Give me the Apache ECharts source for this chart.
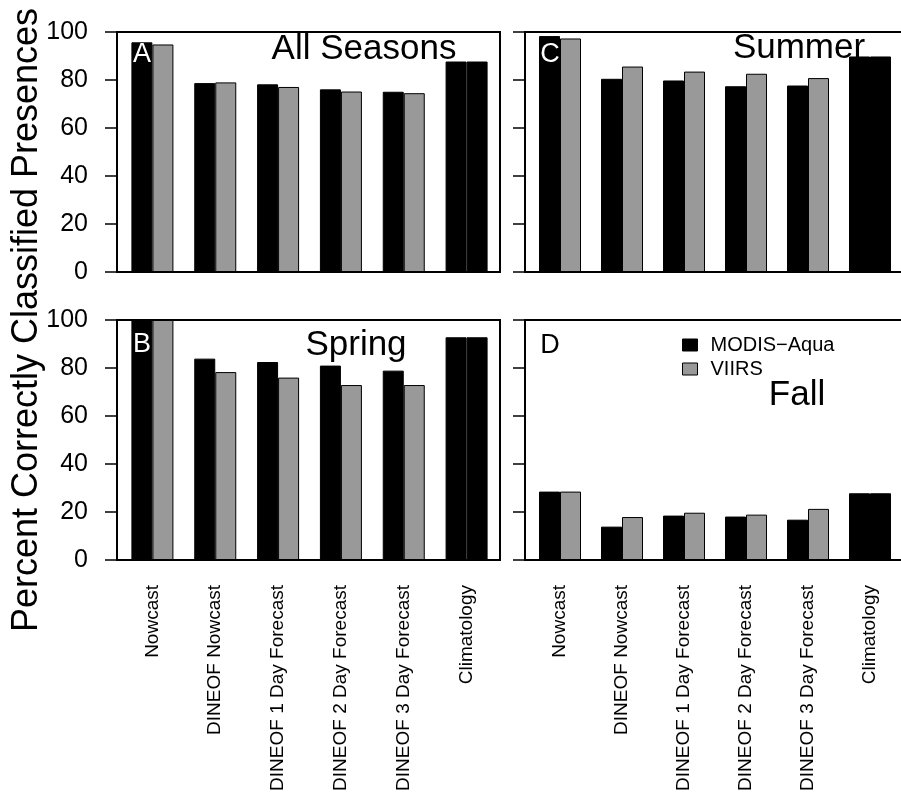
<!DOCTYPE html>
<html>
<head>
<meta charset="utf-8">
<script src="https://cdn.jsdelivr.net/npm/echarts@6/dist/echarts.min.js"></script>
<style>
  html, body { margin: 0; padding: 0; background: #fff; }
  #chart { width: 901px; height: 800px; }
</style>
</head>
<body>
<div id="chart"></div>
<script>
// Forecast methods on the category axis
const categories = ['Nowcast', 'DINEOF Nowcast', 'DINEOF 1 Day Forecast',
  'DINEOF 2 Day Forecast', 'DINEOF 3 Day Forecast', 'Climatology'];

// Percent correctly classified presences, per season and sensor
const modisAll    = [95.7, 78.7, 78.2, 76.1, 75.1, 87.7];
const viirsAll    = [94.8, 79.0, 77.1, 75.2, 74.5, 87.7];
const modisSpring = [100, 83.9, 82.5, 81.0, 78.9, 92.8];
const viirsSpring = [100, 78.3, 76.0, 72.9, 72.9, 92.8];
const modisSummer = [98.3, 80.5, 79.8, 77.4, 77.7, 89.8];
const viirsSummer = [97.3, 85.6, 83.5, 82.6, 80.8, 89.8];
const modisFall   = [28.5, 13.9, 18.5, 18.1, 16.8, 27.8];
const viirsFall   = [28.5, 17.9, 19.7, 18.9, 21.3, 27.8];

const yTicks = [0, 20, 40, 60, 80, 100];
const seriesNames = ['MODIS\u2212Aqua', 'VIIRS'];
const seasonTitles = ['All Seasons', 'Spring', 'Summer', 'Fall'];
const panelLetters = ['A', 'B', 'C', 'D'];

const FONT = '"Liberation Sans", Arial, Helvetica, sans-serif';
const BLACK = '#000000';
const GREY = '#999999';

// panel layout: frame box, bar grid sits 4px inside the frame's left edge
const FRAME_W = 383, PANEL_H = 240;
const panels = [
  { frameLeft: 117, top: 32,  modis: modisAll,    viirs: viirsAll,    yLabels: true,  xLabels: false,
    title: { x: 364, y: 49 },  letter: { x: 142, y: 55,  color: '#fff' } },
  { frameLeft: 117, top: 320, modis: modisSpring, viirs: viirsSpring, yLabels: true,  xLabels: true,
    title: { x: 356, y: 345 }, letter: { x: 142, y: 345, color: '#fff' } },
  { frameLeft: 525, top: 32,  modis: modisSummer, viirs: viirsSummer, yLabels: false, xLabels: false,
    title: { x: 799, y: 48 },  letter: { x: 550, y: 55,  color: '#fff' } },
  { frameLeft: 525, top: 320, modis: modisFall,   viirs: viirsFall,   yLabels: false, xLabels: true,
    title: { x: 797, y: 395 }, letter: { x: 550, y: 346, color: BLACK } }
];

const grids = [], xAxes = [], yAxes = [], series = [], graphics = [];

panels.forEach((p, i) => {
  grids.push({ left: p.frameLeft + 4, top: p.top, width: 377, height: PANEL_H, containLabel: false });
  xAxes.push({
    type: 'category', gridIndex: i, data: categories,
    axisLine: { show: false }, axisTick: { show: false },
    axisLabel: { show: p.xLabels, rotate: 90, margin: 25, fontSize: 19, color: BLACK, fontFamily: FONT, interval: 0 }
  });
  yAxes.push({
    type: 'value', gridIndex: i, min: yTicks[0], max: yTicks[yTicks.length - 1], interval: 20,
    offset: 4,
    axisLine: { show: true, lineStyle: { color: BLACK, width: 2 } },
    axisTick: { show: true, length: 12, lineStyle: { color: BLACK, width: 1.5 } },
    splitLine: { show: false },
    axisLabel: { show: p.yLabels, fontSize: 25, margin: 29, color: BLACK, fontFamily: FONT }
  });
  const barStyle = (c) => ({ color: c, borderColor: BLACK, borderWidth: 1 });
  series.push({
    name: seriesNames[0], type: 'bar', xAxisIndex: i, yAxisIndex: i,
    data: p.modis, barWidth: 21, barGap: '0%', itemStyle: barStyle(BLACK)
  });
  series.push({
    name: seriesNames[1], type: 'bar', xAxisIndex: i, yAxisIndex: i,
    // climatology has no sensor split, so its second bar is drawn black too
    data: p.viirs.map((v, k) => k === categories.length - 1 ? { value: v, itemStyle: { color: BLACK } } : v),
    barWidth: 21, barGap: '0%', itemStyle: barStyle(GREY)
  });
  // panel box
  graphics.push({
    type: 'rect', z: 100, silent: true,
    shape: { x: p.frameLeft, y: p.top, width: FRAME_W, height: PANEL_H },
    style: { fill: 'none', stroke: BLACK, lineWidth: 2 }
  });
  graphics.push({
    type: 'text', z: 101, x: p.title.x, y: p.title.y,
    style: { text: seasonTitles[i], font: '35px ' + FONT, fill: BLACK, textAlign: 'center', textVerticalAlign: 'middle' }
  });
  graphics.push({
    type: 'text', z: 101, x: p.letter.x, y: p.letter.y,
    style: { text: panelLetters[i], font: '27px ' + FONT, fill: p.letter.color, textAlign: 'center', textVerticalAlign: 'middle' }
  });
});

// shared y-axis title
graphics.push({
  type: 'text', z: 101, x: 27, y: 320, rotation: Math.PI / 2,
  style: { text: 'Percent Correctly Classified Presences', font: '36px ' + FONT, fill: BLACK,
    textAlign: 'center', textVerticalAlign: 'middle' }
});

const chart = echarts.init(document.getElementById('chart'), null, { renderer: 'canvas' });
chart.setOption({
  animation: false,
  backgroundColor: '#ffffff',
  textStyle: { fontFamily: FONT },
  grid: grids,
  xAxis: xAxes,
  yAxis: yAxes,
  legend: {
    data: seriesNames, orient: 'vertical', left: 677, top: 330,
    itemWidth: 15, itemHeight: 12, itemGap: 4, icon: 'rect',
    itemStyle: { borderColor: BLACK, borderWidth: 1 },
    textStyle: { fontSize: 20, color: BLACK, fontFamily: FONT, padding: [0, 0, 0, 8] }
  },
  series: series,
  graphic: graphics
});
</script>
</body>
</html>
